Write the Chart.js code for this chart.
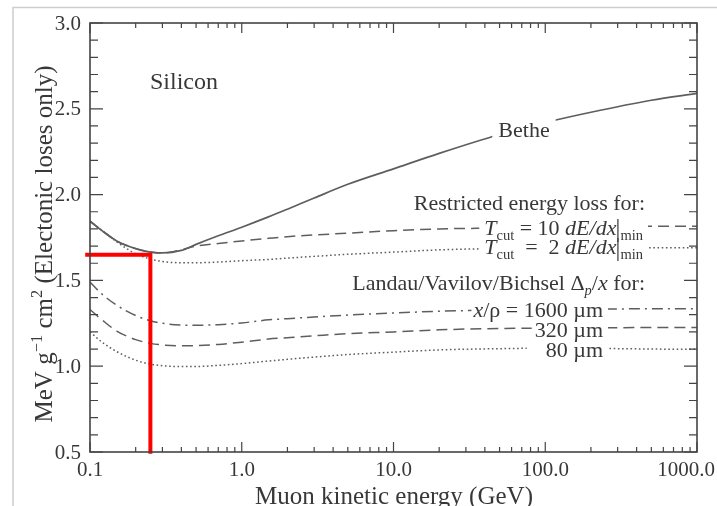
<!DOCTYPE html>
<html>
<head>
<meta charset="utf-8">
<script src="https://cdn.jsdelivr.net/npm/chart.js@4.4.1/dist/chart.umd.min.js"></script>
<style>
  html, body { margin: 0; padding: 0; background: #fff; }
  canvas { display: block; }
</style>
</head>
<body>
<canvas id="dedx" width="717" height="506"></canvas>
<script>
// muon kinetic energy (GeV)
const energy = [0.1, 0.12, 0.15, 0.2, 0.25, 0.3, 0.4, 0.5, 0.7, 1, 1.5, 2, 3, 5, 10, 20, 50, 100, 200, 500, 1000];

// energy loss, MeV g^-1 cm^2
const bethe        = [1.845, 1.79, 1.73, 1.685, 1.665, 1.66, 1.675, 1.71, 1.76, 1.81, 1.87, 1.915, 1.98, 2.06, 2.15, 2.24, 2.35, 2.42, 2.48, 2.55, 2.59];
const restricted10 = [1.845, 1.79, 1.73, 1.685, 1.665, 1.66, 1.678, 1.70, 1.715, 1.73, 1.745, 1.755, 1.765, 1.775, 1.79, 1.80, 1.805, 1.81, 1.812, 1.815, 1.815];
const restricted2  = [1.845, 1.79, 1.725, 1.655, 1.625, 1.61, 1.603, 1.603, 1.607, 1.615, 1.622, 1.63, 1.64, 1.652, 1.665, 1.678, 1.686, 1.69, 1.69, 1.69, 1.69];
const landau1600   = [1.49, 1.42, 1.355, 1.295, 1.265, 1.25, 1.24, 1.238, 1.242, 1.252, 1.27, 1.277, 1.287, 1.298, 1.31, 1.32, 1.328, 1.33, 1.332, 1.335, 1.335];
const landau320    = [1.33, 1.27, 1.205, 1.155, 1.133, 1.124, 1.119, 1.12, 1.127, 1.14, 1.158, 1.166, 1.177, 1.19, 1.20, 1.212, 1.22, 1.222, 1.224, 1.225, 1.225];
const landau80     = [1.20, 1.14, 1.085, 1.035, 1.012, 1.003, 0.998, 0.998, 1.005, 1.015, 1.03, 1.04, 1.053, 1.068, 1.082, 1.095, 1.102, 1.105, 1.104, 1.10, 1.098];

// red guide marking the minimum
const markerEnergy = [0.093, 0.25, 0.25];
const markerLoss = [1.65, 1.65, 0.49];

const yTicks = [0.5, 1.0, 1.5, 2.0, 2.5, 3.0];
const yTickLabels = ['0.5', '1.0', '1.5', '2.0', '2.5', '3.0'];
const xTicks = [0.1, 1, 10, 100, 1000];
const xTickLabels = ['0.1', '1.0', '10.0', '100.0', '1000.0'];

const curveColor = '#5e5e5e';
const textColor = '#383838';
const serif = '"Liberation Serif", "Times New Roman", serif';

function series(values) {
    return energy.map(function (e, i) { return { x: e, y: values[i] }; });
}

function runFont(r, size) {
    const s = (r.sub || r.sup) ? size * 0.66 : size;
    return (r.i ? 'italic ' : '') + s + 'px ' + serif;
}

function richWidth(ctx, runs, size) {
    let w = 0;
    runs.forEach(function (r) {
        if (r.bar) { w += 4; return; }
        ctx.font = runFont(r, size);
        w += ctx.measureText(r.t).width;
    });
    return w;
}

// y is the vertical middle of the capitals
function drawRich(ctx, lab, bgOnly) {
    const size = lab.size;
    const w = richWidth(ctx, lab.runs, size);
    let cx = lab.align === 'right' ? lab.x - w : lab.align === 'center' ? lab.x - w / 2 : lab.x;
    const base = lab.y + size * 0.34;
    if (bgOnly) {
        if (lab.pad) {
            ctx.fillStyle = '#fff';
            ctx.fillRect(cx - lab.pad[0], lab.y - size * 0.5, w + lab.pad[0] + lab.pad[1], size * 1.0);
        }
        return;
    }
    ctx.fillStyle = textColor;
    ctx.strokeStyle = textColor;
    ctx.textBaseline = 'alphabetic';
    ctx.textAlign = 'left';
    lab.runs.forEach(function (r) {
        if (r.bar) {
            ctx.lineWidth = 1.2;
            ctx.beginPath();
            ctx.moveTo(cx + 1.5, base - size * 0.75);
            ctx.lineTo(cx + 1.5, base + size * 0.3);
            ctx.stroke();
            cx += 4;
            return;
        }
        ctx.font = runFont(r, size);
        const dy = r.sub ? size * 0.2 : r.sup ? -size * 0.38 : 0;
        ctx.fillText(r.t, cx, base + dy);
        cx += ctx.measureText(r.t).width;
    });
}

const labels = [
    { runs: [{ t: 'Silicon' }], x: 150, y: 81, size: 24, align: 'left' },
    { runs: [{ t: 'Bethe' }], x: 524, y: 130, size: 22, align: 'center', pad: [6, 6] },
    { runs: [{ t: 'Restricted energy loss for:' }], x: 645, y: 203, size: 22, align: 'right' },
    { runs: [{ t: 'T', i: true }, { t: 'cut', sub: true }, { t: ' = 10 ' }, { t: 'dE/dx', i: true }, { bar: true }, { t: 'min', sub: true }],
      x: 643, y: 228, size: 22, align: 'right', pad: [5, 5] },
    { runs: [{ t: 'T', i: true }, { t: 'cut', sub: true }, { t: '  =  2 ' }, { t: 'dE/dx', i: true }, { bar: true }, { t: 'min', sub: true }],
      x: 643, y: 247, size: 22, align: 'right', pad: [5, 5] },
    { runs: [{ t: 'Landau/Vavilov/Bichsel \u0394' }, { t: 'p', i: true, sub: true }, { t: '/' }, { t: 'x', i: true }, { t: ' for:' }],
      x: 645, y: 283, size: 22, align: 'right' },
    { runs: [{ t: 'x', i: true }, { t: '/\u03c1 = 1600 \u00b5m' }], x: 603, y: 310, size: 22, align: 'right', pad: [2, 5] },
    { runs: [{ t: '320 \u00b5m' }], x: 603, y: 330, size: 22, align: 'right', pad: [3, 5] },
    { runs: [{ t: '80 \u00b5m' }], x: 603, y: 350, size: 22, align: 'right', pad: [19, 5] }
];

const yTitle = { runs: [{ t: 'MeV g' }, { t: '\u22121', sup: true }, { t: ' cm' }, { t: '2', sup: true }, { t: ' (Electonic loses only)' }],
                 x: 0, y: 0, size: 25, align: 'center' };
const xTitle = { runs: [{ t: 'Muon kinetic energy (GeV)' }], x: 394, y: 495, size: 25, align: 'center' };

const annotations = {
    id: 'annotations',
    afterDatasetsDraw(chart) {
        const ctx = chart.ctx;
        ctx.save();
        labels.forEach(function (l) { drawRich(ctx, l, true); });
        labels.forEach(function (l) { drawRich(ctx, l, false); });
        ctx.restore();
    }
};

const axesFrame = {
    id: 'axesFrame',
    beforeDraw(chart) {
        const ctx = chart.ctx;
        ctx.save();
        ctx.fillStyle = '#fff';
        ctx.fillRect(0, 0, chart.width, chart.height);
        ctx.strokeStyle = '#cdcdcd';
        ctx.lineWidth = 1.5;
        ctx.beginPath();
        ctx.moveTo(13, chart.height);
        ctx.lineTo(13, 7.5);
        ctx.lineTo(chart.width, 7.5);
        ctx.stroke();
        ctx.restore();
    },
    afterDraw(chart) {
        const ctx = chart.ctx;
        const a = chart.chartArea;
        const xs = chart.scales.x;
        const ys = chart.scales.y;
        ctx.save();
        ctx.strokeStyle = '#444';
        ctx.lineWidth = 1.6;
        ctx.strokeRect(a.left, a.top, a.right - a.left, a.bottom - a.top);

        ctx.lineWidth = 1.2;
        ctx.beginPath();
        // y ticks every 0.1, long at every 0.5
        for (let k = 5; k <= 30; k++) {
            const py = ys.getPixelForValue(k / 10);
            const len = k % 5 === 0 ? 13 : 8;
            ctx.moveTo(a.left, py); ctx.lineTo(a.left + len, py);
            ctx.moveTo(a.right, py); ctx.lineTo(a.right - len, py);
        }
        // log x ticks
        for (let d = -1; d <= 3; d++) {
            for (let m = 1; m <= 9; m++) {
                if (d === 3 && m > 1) break;
                const px = xs.getPixelForValue(m * Math.pow(10, d));
                const len = m === 1 ? 10 : 5;
                ctx.moveTo(px, a.bottom); ctx.lineTo(px, a.bottom - len);
                ctx.moveTo(px, a.top); ctx.lineTo(px, a.top + len);
            }
        }
        ctx.stroke();

        ctx.fillStyle = textColor;
        ctx.font = '21px ' + serif;
        ctx.textAlign = 'right';
        ctx.textBaseline = 'middle';
        yTicks.forEach(function (v, i) {
            ctx.fillText(yTickLabels[i], a.left - 9, ys.getPixelForValue(v) + 1);
        });
        ctx.textAlign = 'center';
        ctx.textBaseline = 'top';
        xTicks.forEach(function (v, i) {
            const w = ctx.measureText(xTickLabels[i]).width;
            const px = Math.min(xs.getPixelForValue(v), chart.width - w / 2 - 2);
            ctx.fillText(xTickLabels[i], px, a.bottom + 8);
        });

        drawRich(ctx, xTitle, false);
        ctx.translate(43, 244);
        ctx.rotate(-Math.PI / 2);
        drawRich(ctx, yTitle, false);
        ctx.restore();
    }
};

const ctx = document.getElementById('dedx').getContext('2d');

new Chart(ctx, {
    type: 'line',
    data: {
        datasets: [
            {
                label: 'minimum',
                data: markerEnergy.map(function (e, i) { return { x: e, y: markerLoss[i] }; }),
                borderColor: '#ff0000',
                borderWidth: 4,
                tension: 0,
                cubicInterpolationMode: 'default',
                borderJoinStyle: 'miter',
                clip: false
            },
            { label: 'Bethe', data: series(bethe), borderWidth: 1.7 },
            { label: 'Tcut = 10 dE/dx|min', data: series(restricted10), borderDash: [11, 6] },
            { label: 'Tcut = 2 dE/dx|min', data: series(restricted2), borderDash: [1.6, 2.6] },
            { label: 'x/rho = 1600 um', data: series(landau1600), borderDash: [11, 5, 2, 5] },
            { label: '320 um', data: series(landau320), borderDash: [11, 6] },
            { label: '80 um', data: series(landau80), borderDash: [1.6, 2.6] }
        ]
    },
    options: {
        responsive: false,
        animation: false,
        devicePixelRatio: 1,
        layout: { padding: { left: 90, right: 20, top: 23, bottom: 54 } },
        datasets: {
            line: {
                borderColor: curveColor,
                borderWidth: 1.5,
                pointRadius: 0,
                cubicInterpolationMode: 'monotone',
                borderCapStyle: 'butt'
            }
        },
        plugins: {
            legend: { display: false },
            tooltip: { enabled: false }
        },
        scales: {
            x: { type: 'logarithmic', min: 0.1, max: 1000, display: false },
            y: { type: 'linear', min: 0.5, max: 3.0, display: false }
        }
    },
    plugins: [axesFrame, annotations]
});
</script>
</body>
</html>
